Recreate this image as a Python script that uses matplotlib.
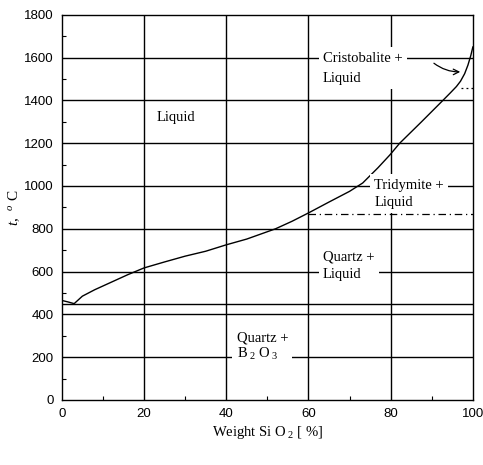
import matplotlib
matplotlib.use("Agg")
import matplotlib.pyplot as plt
import numpy as np

serif = 'Liberation Serif'
plt.rcParams['mathtext.fontset'] = 'custom'
plt.rcParams['mathtext.rm'] = serif
plt.rcParams['mathtext.it'] = serif + ':italic'

# liquidus curve (wt% SiO2, temperature °C)
liq_x = [0, 1.5, 3, 5, 8, 12, 16, 20, 25, 30, 35, 40, 45, 52, 56, 60, 65, 70, 73.2, 76.9, 79.8, 82.2, 87.5, 92.7, 94.5, 96, 97, 98, 98.8, 99.5, 100]
liq_t = [465, 458, 450, 485, 515, 550, 585, 617, 645, 672, 695, 725, 752, 800, 835, 874, 925, 975, 1014, 1085, 1145, 1200, 1300, 1400, 1435, 1465, 1490, 1525, 1565, 1610, 1650]
eutectic_t = 450
tridymite_t = 870
tridymite_x = [60, 100]
cristobalite_t = 1460
cristobalite_x = [97, 100]

x_ticks = [0, 20, 40, 60, 80, 100]
y_ticks = [0, 200, 400, 600, 800, 1000, 1200, 1400, 1600, 1800]

fig = plt.figure(figsize=(4.83, 4.65), dpi=100)
ax = fig.add_axes([0.128, 0.140, 0.851, 0.828])
ax.set_xlim(0, 100)
ax.set_ylim(0, 1800)

for v in y_ticks[1:-1]:
    ax.axhline(v, color='black', lw=1.0, zorder=1)
for v in x_ticks[1:-1]:
    ax.axvline(v, color='black', lw=1.0, zorder=1)

ax.axhline(eutectic_t, color='black', lw=1.0, zorder=1)
ax.plot(liq_x, liq_t, color='black', lw=1.0, zorder=3)
ax.plot(tridymite_x, [tridymite_t]*2, color='black', lw=0.9, ls=(0, (6, 3, 1, 3)), zorder=6)
ax.plot(cristobalite_x, [cristobalite_t]*2, color='black', lw=0.9, ls=(0, (1.5, 2.5)), zorder=6)

ax.set_xticks(x_ticks)
ax.set_yticks(y_ticks)
ax.set_xticks(np.arange(10, 100, 20), minor=True)
ax.set_yticks(np.arange(100, 1800, 200), minor=True)
ax.tick_params(which='both', direction='in', length=0)
ax.tick_params(which='minor', length=3, width=0.8)
ax.tick_params(axis='both', labelsize=9.5, pad=6)
for lab in ax.get_xticklabels() + ax.get_yticklabels():
    lab.set_family('Liberation Sans')
for s in ax.spines.values():
    s.set_linewidth(1.0)

bb = dict(facecolor='white', edgecolor='none', pad=3)
ax.text(23, 1320, 'Liquid', family=serif, fontsize=10.5, ha='left', va='center', zorder=4)
ax.text(63.5, 1550, 'Cristobalite +\nLiquid', family=serif, fontsize=10.5, ha='left', va='center',
        linespacing=1.75, bbox=bb, zorder=4)
ax.text(76, 963, 'Tridymite +\nLiquid', family=serif, fontsize=10.5, ha='left', va='center',
        linespacing=1.45, bbox=bb, zorder=4)
ax.text(63.5, 626, 'Quartz +\nLiquid', family=serif, fontsize=10.5, ha='left', va='center',
        linespacing=1.4, bbox=bb, zorder=4)
ax.text(42.5, 248, 'Quartz +\nB$_{\\ 2}$ O$_{\\ 3}$', family=serif, fontsize=10.5, ha='left', va='center',
        linespacing=1.15, bbox=bb, zorder=4)
ax.annotate('', xy=(97.6, 1534), xytext=(90, 1582),
            arrowprops=dict(arrowstyle='->', color='black', lw=0.9, connectionstyle='arc3,rad=0.2'),
            zorder=7)

ax.set_ylabel('$t$,  $^{o}$ C', family=serif, fontsize=11)
ax.yaxis.set_label_coords(-0.097, 0.5)
ax.set_xlabel('Weight Si O$_{\\ 2}$ [ %]', family=serif, fontsize=10.5, labelpad=3)

fig.savefig('out.png', dpi=100)
